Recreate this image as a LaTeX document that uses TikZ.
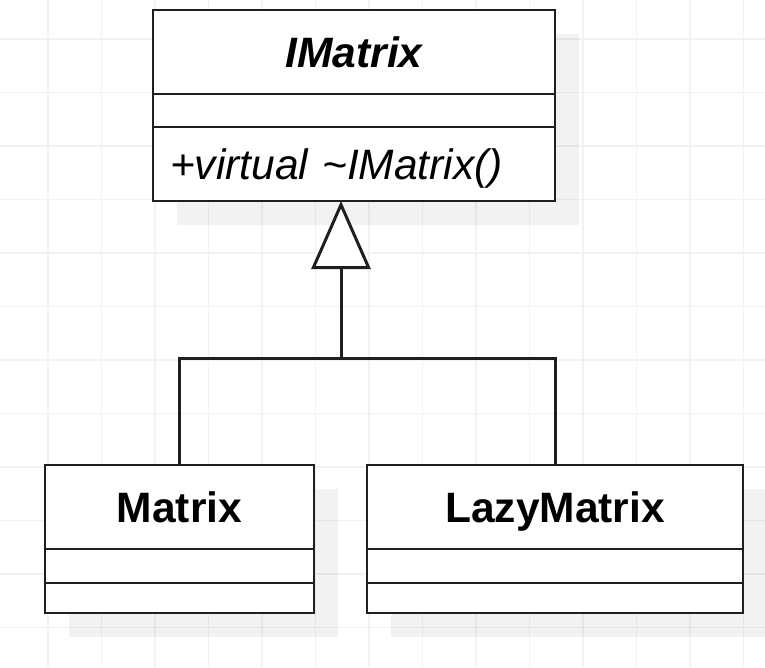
\documentclass[tikz,border=0pt]{standalone}
\usepackage{fontspec}
\setmainfont{Liberation Sans}
\usetikzlibrary{arrows.meta,positioning,shadows}

\begin{document}
\begin{tikzpicture}[x=1pt, y=-1pt,
  grd/.style={draw=gray!10, line width=1.2pt},
  box/.style={draw=black!88, line width=2.8pt, fill=white, anchor=north, inner sep=0pt, outer sep=0pt, drop shadow={shadow xshift=24pt, shadow yshift=-24pt, fill=black, opacity=0.05}},
  ttl/.style={box, minimum height=84, font=\fontsize{42.5}{50}\selectfont\bfseries, text height=30.5pt, text depth=0pt},
  fld/.style={box},
  opr/.style={box, font=\fontsize{42.5}{50}\selectfont, align=left, inner xsep=17pt, text height=30.5pt, text depth=0pt},
  lnk/.style={draw=black!88, line width=3pt}
]
\fill[white] (0,0) rectangle (765,667);
\useasboundingbox (0,0) rectangle (765,667);

%--- grid ---
\foreach \gx in {0,...,13}
  \draw[grd] (48+53.5*\gx,0) -- (48+53.5*\gx,667);
\foreach \gy in {0,...,11}
  \draw[grd] (0,39+53.5*\gy) -- (765,39+53.5*\gy);

%--- IMatrix (top) ---
\node[ttl, minimum width=402] (imat) at (354,10) {\itshape IMatrix};
\node[fld, minimum width=402, minimum height=33, below=0pt of imat] (imatfld) {};
\node[opr, text width=368pt, minimum height=74, below=0pt of imatfld] (imatops) {\itshape +virtual \textasciitilde IMatrix()};

%--- Matrix (bottom-left) ---
\node[ttl, minimum width=269] (mat) at (179.5,465) {Matrix};
\node[fld, minimum width=269, minimum height=34, below=0pt of mat] (matfld) {};
\node[fld, minimum width=269, minimum height=30, below=0pt of matfld] (matops) {};

%--- LazyMatrix (bottom-right) ---
\node[ttl, minimum width=376] (lazy) at (555,465) {LazyMatrix};
\node[fld, minimum width=376, minimum height=34, below=0pt of lazy] (lazyfld) {};
\node[fld, minimum width=376, minimum height=30, below=0pt of lazyfld] (lazyops) {};

%--- generalisation ---
\coordinate (join) at (341,358);
\draw[lnk] (mat.north) |- (join) -| (lazy.north);
\draw[lnk, -{Triangle[fill=white, length=68pt, width=59pt]}] (join) -- (join |- imatops.south);
\end{tikzpicture}
\end{document}
